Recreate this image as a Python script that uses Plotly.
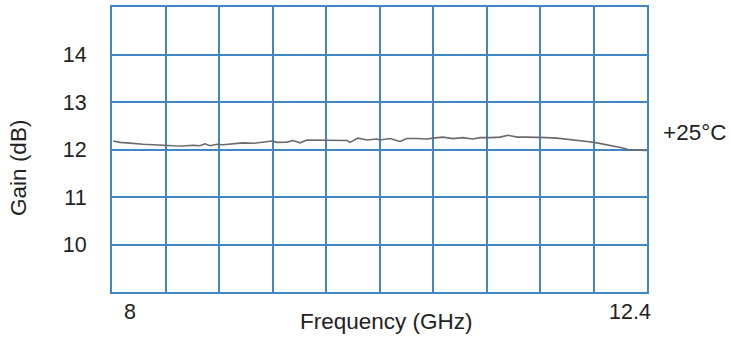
import plotly.graph_objects as go

# Data
freq_ghz = [8.01, 8.066, 8.123, 8.173, 8.255, 8.337, 8.436, 8.502, 8.584, 8.666,
            8.724, 8.765, 8.806, 8.863, 8.913, 8.995, 9.077, 9.160, 9.242, 9.316,
            9.357, 9.439, 9.488, 9.546, 9.604, 9.686, 9.768, 9.850, 9.933, 9.957,
            10.023, 10.097, 10.179, 10.204, 10.286, 10.368, 10.426, 10.508, 10.590, 10.640,
            10.722, 10.804, 10.886, 10.969, 11.026, 11.109, 11.191, 11.257, 11.331, 11.413,
            11.495, 11.577, 11.660, 11.742, 11.824, 11.906, 11.988, 12.071, 12.153, 12.202,
            12.243, 12.284, 12.4]
gain_db = [12.18, 12.15, 12.14, 12.125, 12.11, 12.10, 12.08, 12.08, 12.075, 12.09,
           12.08, 12.12, 12.08, 12.11, 12.10, 12.12, 12.14, 12.13, 12.15, 12.18,
           12.15, 12.155, 12.19, 12.14, 12.20, 12.195, 12.19, 12.20, 12.19, 12.15,
           12.24, 12.20, 12.22, 12.20, 12.23, 12.17, 12.23, 12.23, 12.22, 12.24,
           12.26, 12.23, 12.25, 12.22, 12.25, 12.25, 12.26, 12.30, 12.26, 12.26,
           12.26, 12.25, 12.24, 12.22, 12.19, 12.17, 12.14, 12.10, 12.06, 12.03,
           12.00, 11.99, 11.98]

y_ticks = [10, 11, 12, 13, 14]
x_tick_labels = ["8", "12.4"]
x_tick_values = [8.0, 12.4]
series_label = "+25°C"

GRID = "#4286c4"
FONT = "Liberation Sans, Arial, sans-serif"
TXT = "#222222"

fig = go.Figure()
fig.add_trace(go.Scatter(x=freq_ghz, y=gain_db, mode="lines",
                         line=dict(color="#6a6a6a", width=1.6), showlegend=False))

fig.update_layout(
    width=731, height=338,
    margin=dict(l=112, r=84, t=5, b=46),
    paper_bgcolor="white", plot_bgcolor="white",
    font=dict(family=FONT, color=TXT),
    xaxis=dict(range=[8, 12.4], tick0=8, dtick=0.44, showticklabels=False,
               showgrid=True, gridcolor=GRID, gridwidth=2, zeroline=False,
               showline=True, mirror=True, linecolor=GRID, linewidth=2, ticks=""),
    yaxis=dict(range=[9, 15], tickvals=y_ticks, ticktext=[str(v) for v in y_ticks],
               showgrid=True, gridcolor=GRID, gridwidth=2, zeroline=False,
               showline=True, mirror=True, linecolor=GRID, linewidth=2, ticks="",
               tickfont=dict(size=21.5, family=FONT, color=TXT),
               ticklabelstandoff=19),
)

shifts = [18, -17]
for val, lab, sh in zip(x_tick_values, x_tick_labels, shifts):
    fig.add_annotation(x=val, xref="x", y=-0.0697, yref="paper", text=lab,
                       showarrow=False, xshift=sh, xanchor="center", yanchor="middle",
                       font=dict(size=21.5, family=FONT, color=TXT))

fig.add_annotation(x=0.514, y=-0.1045, xref="paper", yref="paper", text="Frequency (GHz)",
                   showarrow=False, xanchor="center", yanchor="middle",
                   font=dict(size=22.5, family=FONT, color=TXT))
fig.add_annotation(x=-0.1738, y=0.4355, xref="paper", yref="paper", text="Gain (dB)",
                   showarrow=False, textangle=-90, xanchor="center", yanchor="middle",
                   font=dict(size=22.5, family=FONT, color=TXT))
fig.add_annotation(x=1.0897, y=0.561, xref="paper", yref="paper", text=series_label,
                   showarrow=False, xanchor="center", yanchor="middle",
                   font=dict(size=22.5, family=FONT, color=TXT))

fig.write_html("out.html")
